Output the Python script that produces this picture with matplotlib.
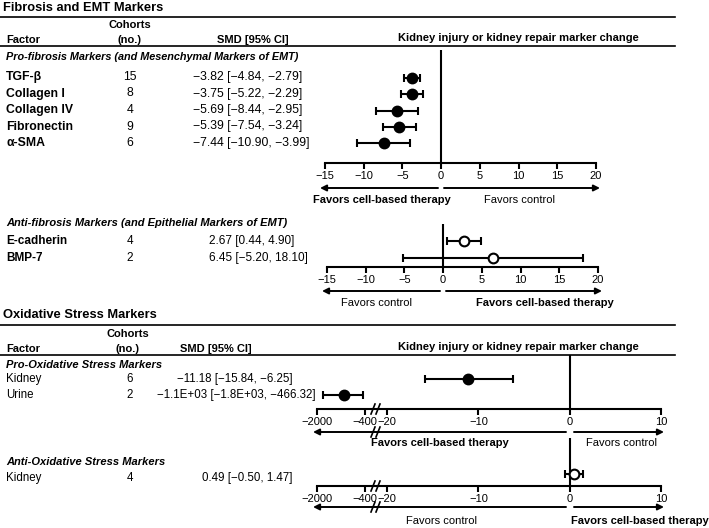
import matplotlib
matplotlib.use("Agg")
from matplotlib import pyplot as plt
from matplotlib.lines import Line2D
from matplotlib.patches import FancyArrowPatch

plt.rcParams['font.family'] = ['Liberation Sans', 'DejaVu Sans']
plt.rcParams['axes.unicode_minus'] = True

# ---- data ----
fib_pro_factors = ['TGF-β', 'Collagen I', 'Collagen IV', 'Fibronectin', 'α-SMA']
fib_pro_n = [15, 8, 4, 9, 6]
fib_pro_smd = [-3.82, -3.75, -5.69, -5.39, -7.44]
fib_pro_lo = [-4.84, -5.22, -8.44, -7.54, -10.90]
fib_pro_hi = [-2.79, -2.29, -2.95, -3.24, -3.99]

fib_anti_factors = ['E-cadherin', 'BMP-7']
fib_anti_n = [4, 2]
fib_anti_smd = [2.67, 6.45]
fib_anti_lo = [0.44, -5.20]
fib_anti_hi = [4.90, 18.10]

ox_pro_factors = ['Kidney', 'Urine']
ox_pro_n = [6, 2]
ox_pro_smd = [-11.18, -1100]
ox_pro_lo = [-15.84, -1800]
ox_pro_hi = [-6.25, -466.32]

ox_anti_factors = ['Kidney']
ox_anti_n = [4]
ox_anti_smd = [0.49]
ox_anti_lo = [-0.50]
ox_anti_hi = [1.47]

fib_ticks = [-15, -10, -5, 0, 5, 10, 15, 20]
ox_ticks_left = [-2000, -400]
ox_ticks_right = [-20, -10, 0, 10]

W, H = 709, 528
fig = plt.figure(figsize=(W / 100, H / 100), dpi=100)
fig.patch.set_facecolor('white')


def txt(x, y, s, size=8, weight='normal', style='normal', ha='left'):
    fig.text(x / W, 1 - y / H, s, fontsize=size, fontweight=weight,
             fontstyle=style, ha=ha, va='center')


def hline(y, x0=0, x1=675, lw=1.2):
    fig.add_artist(Line2D([x0 / W, x1 / W], [1 - y / H, 1 - y / H],
                          color='black', lw=lw))


def arrow(x_from, x_to, y):
    fig.add_artist(FancyArrowPatch(
        (x_from / W, 1 - y / H), (x_to / W, 1 - y / H),
        transform=fig.transFigure, arrowstyle='-|>', mutation_scale=9,
        lw=1.4, color='black', shrinkA=0, shrinkB=0))


def brk(x, y):
    # "//" axis-break mark
    for dx in (-3, 2):
        fig.add_artist(Line2D([(x + dx - 2) / W, (x + dx + 2) / W],
                              [1 - (y + 5) / H, 1 - (y - 5) / H],
                              color='black', lw=1.2))


def fmt(v):
    s = f"{v:.1E}" if abs(v) >= 1000 else f"{v:.2f}"
    return s.replace('-', '−')


def add_ax(x0, x1, y_top, y_bot, first_row, step, xlim):
    ax = fig.add_axes([x0 / W, 1 - y_bot / H, (x1 - x0) / W, (y_bot - y_top) / H])
    ax.set_xlim(*xlim)
    ax.set_ylim((y_bot - first_row) / step, (y_top - first_row) / step)
    ax.patch.set_alpha(0)
    for s in ['top', 'right', 'left']:
        ax.spines[s].set_visible(False)
    ax.spines['bottom'].set_linewidth(1.5)
    ax.set_yticks([])
    ax.tick_params(axis='x', direction='out', length=4, width=1.5,
                   labelsize=8, pad=2)
    return ax


def forest(ax, smd, lo, hi, filled=True):
    for i, (m, l, h) in enumerate(zip(smd, lo, hi)):
        x0, x1 = ax.get_xlim()
        if not (x0 <= m <= x1):
            continue
        ax.errorbar(m, i, xerr=[[m - l], [h - m]], fmt='o', color='black',
                    ecolor='black', elinewidth=1.5, capsize=3, capthick=1.5,
                    ms=7, mfc='black' if filled else 'white', mec='black',
                    mew=1.5, clip_on=False, zorder=3)


def rows(y0, step, factors, n, smd, lo, hi, x_val, bold, size=8):
    w = 'bold' if bold else 'normal'
    for i, f in enumerate(factors):
        y = y0 + step * i
        txt(6, y, f, weight=w, size=size)
        txt(130, y, str(n[i]), ha='center', size=size)
        xv = x_val[i] if isinstance(x_val, list) else x_val
        txt(xv, y, f"{fmt(smd[i])} [{fmt(lo[i])}, {fmt(hi[i])}]", size=size)


# ================= Fibrosis and EMT =================
txt(3, 8, 'Fibrosis and EMT Markers', size=9.3, weight='bold')
hline(17)
txt(130, 25, 'Cohorts', weight='bold', ha='center')
txt(6, 40, 'Factor', weight='bold')
txt(130, 40, '(no.)', weight='bold', ha='center')
txt(253, 40, 'SMD [95% CI]', weight='bold', ha='center')
txt(518, 38, 'Kidney injury or kidney repair marker change', weight='bold', ha='center')
hline(46)
txt(6, 57, 'Pro-fibrosis Markers (and Mesenchymal Markers of EMT)',
    weight='bold', style='italic', size=7.8)
rows(77, 16.5, fib_pro_factors, fib_pro_n, fib_pro_smd, fib_pro_lo, fib_pro_hi,
     193, True, size=8.8)

ax1 = add_ax(325, 596, 50, 163, 78, 16.3, (-15, 20))
ax1.axvline(0, color='black', lw=1.5)
ax1.set_xticks(fib_ticks)
forest(ax1, fib_pro_smd, fib_pro_lo, fib_pro_hi)
arrow(438, 320, 188)
arrow(444, 600, 188)
txt(382, 200, 'Favors cell-based therapy', weight='bold', ha='center')
txt(520, 200, 'Favors control', ha='center')

txt(6, 223, 'Anti-fibrosis Markers (and Epithelial Markers of EMT)',
    weight='bold', style='italic')
rows(241, 17, fib_anti_factors, fib_anti_n, fib_anti_smd, fib_anti_lo, fib_anti_hi,
     209, True, size=8.5)
ax2 = add_ax(327, 598, 224, 267, 241, 17, (-15, 20))
ax2.axvline(0, color='black', lw=1.5)
ax2.set_xticks(fib_ticks)
forest(ax2, fib_anti_smd, fib_anti_lo, fib_anti_hi, filled=False)
arrow(440, 322, 291)
arrow(446, 602, 291)
txt(377, 303, 'Favors control', ha='center')
txt(545, 303, 'Favors cell-based therapy', weight='bold', ha='center')

# ================= Oxidative stress =================
txt(3, 315, 'Oxidative Stress Markers', size=9.3, weight='bold')
hline(325)
txt(128, 334, 'Cohorts', weight='bold', ha='center')
txt(6, 349, 'Factor', weight='bold')
txt(128, 349, '(no.)', weight='bold', ha='center')
txt(216, 349, 'SMD [95% CI]', weight='bold', ha='center')
txt(518, 347, 'Kidney injury or kidney repair marker change', weight='bold', ha='center')
hline(355)
txt(6, 365, 'Pro-Oxidative Stress Markers', weight='bold', style='italic')
rows(379, 16, ox_pro_factors, ox_pro_n, ox_pro_smd, ox_pro_lo, ox_pro_hi,
     [177, 157], False, size=8.3)

# broken x axis: left part for large values, right part for small ones
for y_top, y_bot, first, step, smd, lo, hi, filled in [
        (355, 409, 379, 16, ox_pro_smd, ox_pro_lo, ox_pro_hi, True),
        (438, 486, 474, 16, ox_anti_smd, ox_anti_lo, ox_anti_hi, False)]:
    axl = add_ax(317, 375, y_top, y_bot, first, step, (-2000, -67))
    axl.set_xticks(ox_ticks_left)
    axr = add_ax(377, 661, y_top, y_bot, first, step, (-21.1, 10))
    axr.set_xticks(ox_ticks_right)
    axr.axvline(0, color='black', lw=1.5)
    forest(axl, smd, lo, hi, filled)
    forest(axr, smd, lo, hi, filled)
    brk(376, y_bot)

arrow(566, 313, 432)
arrow(574, 664, 432)
brk(376, 432)
txt(440, 443, 'Favors cell-based therapy', weight='bold', ha='center')
txt(621, 443, 'Favors control', ha='center')

txt(6, 462, 'Anti-Oxidative Stress Markers', weight='bold', style='italic')
rows(478, 16, ox_anti_factors, ox_anti_n, ox_anti_smd, ox_anti_lo, ox_anti_hi,
     202, False, size=8.3)
arrow(566, 313, 507)
arrow(574, 664, 507)
brk(376, 507)
txt(441, 521, 'Favors control', ha='center')
txt(640, 521, 'Favors cell-based therapy', weight='bold', ha='center')

plt.savefig('out.png', dpi=100)
